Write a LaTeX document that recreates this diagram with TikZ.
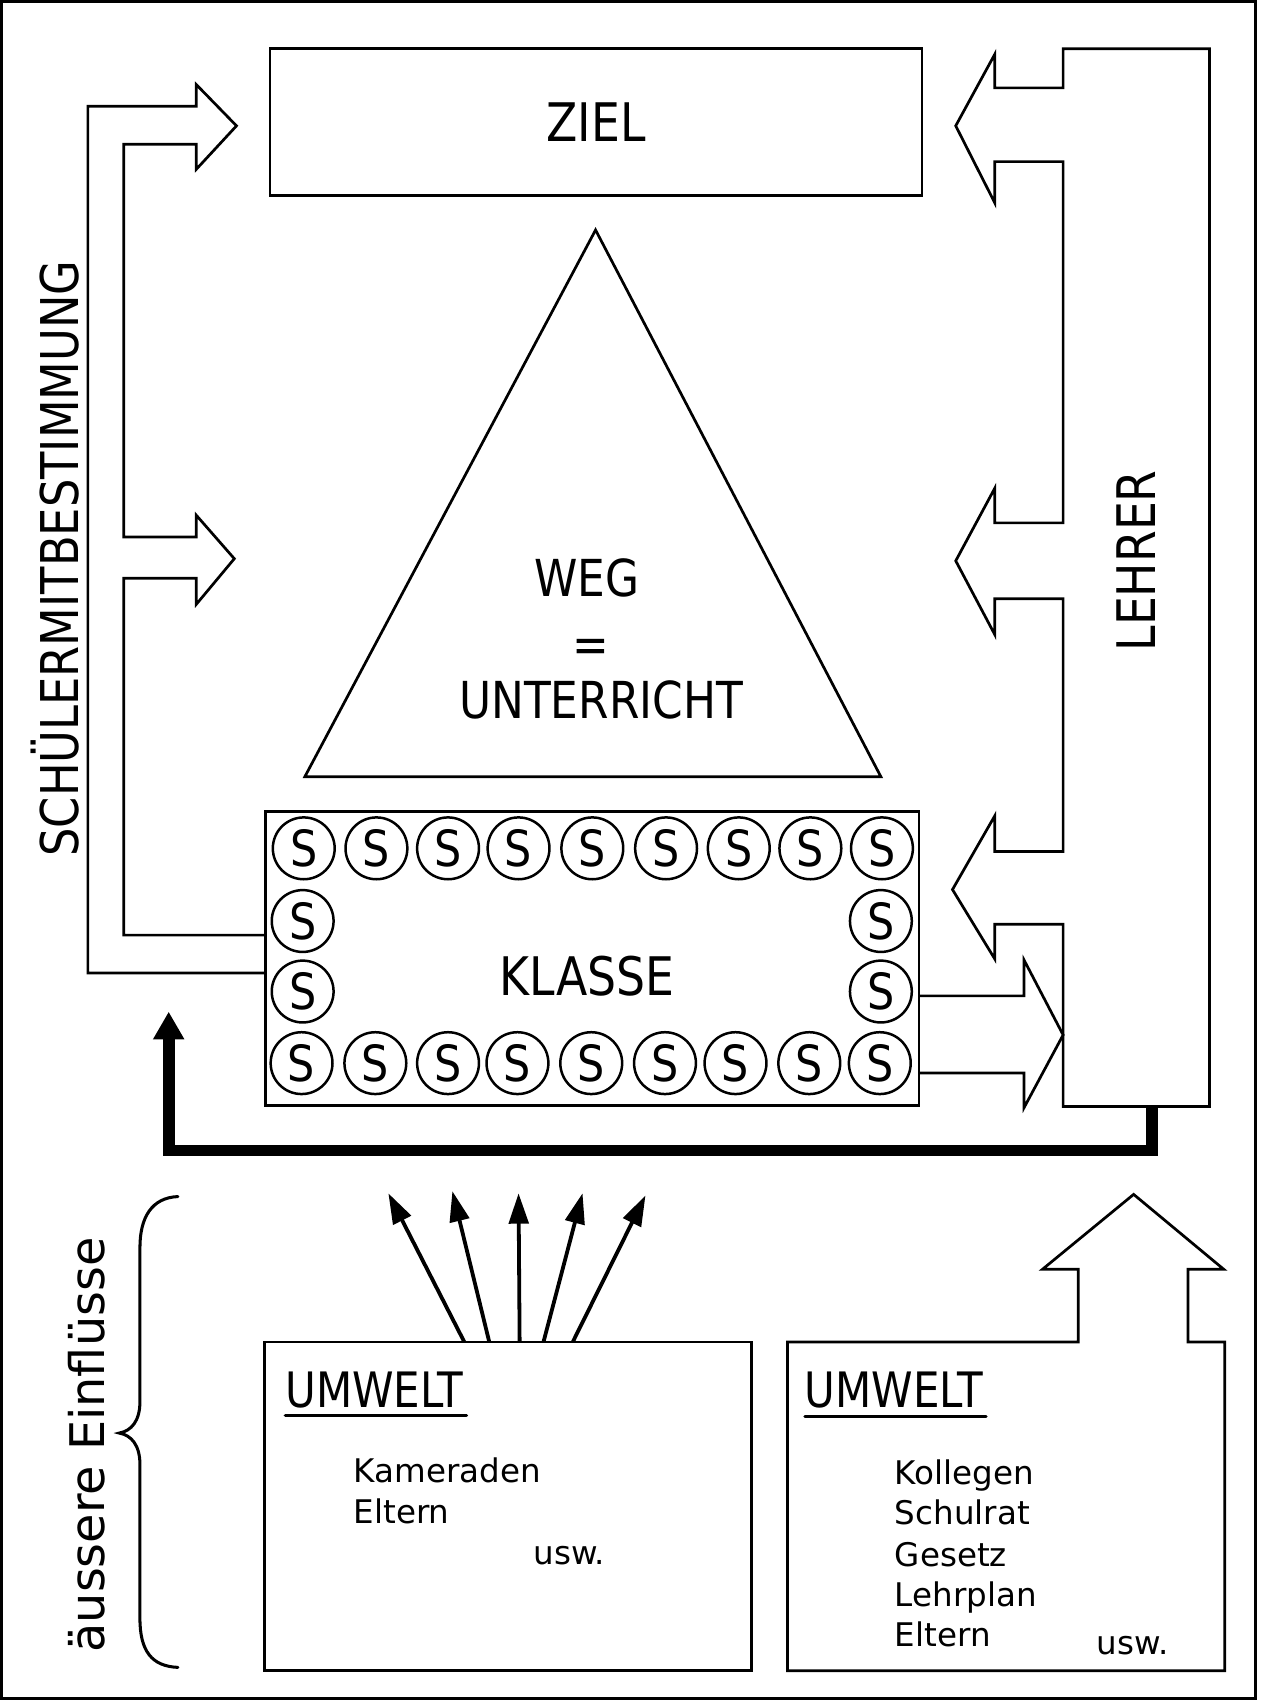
\documentclass[tikz,border=0pt]{standalone}
\usepackage{fontspec}
\setmainfont{DejaVu Sans}[FakeStretch=0.86]
\newfontfamily\lcfont{DejaVu Sans}
\usetikzlibrary{arrows.meta}
\tikzset{
  ln/.style={line width=2.5pt, line join=miter, miter limit=20},
  box/.style={draw, line width=2.5pt, rectangle, inner sep=0pt, outer sep=0pt},
  stud/.style={draw, circle, line width=2.3pt, minimum size=57pt, inner sep=0pt, outer sep=0pt, font=\fontsize{46}{46}\selectfont},
  lbl/.style={inner sep=0pt, outer sep=0pt},
  caps/.style={lbl, font=\fontsize{#1}{#1}\selectfont},
  lower/.style={lbl, font=\lcfont\fontsize{30}{37.5}\selectfont},
  thinarrow/.style={line width=3.5pt, -{Triangle[length=28pt,width=18pt]}},
}
\begin{document}
\begin{tikzpicture}[x=1pt,y=-1pt]
\useasboundingbox (0,0) rectangle (1162,1568);
% outer frame
\draw[line width=2.5pt] (1.5,1.5) rectangle (1157.5,1566);

% ZIEL
\node[box, minimum width=601pt, minimum height=135pt, font=\fontsize{49}{49}\selectfont] (ziel) at (549.5,112.5) {ZIEL};

% triangle
\coordinate (apex) at (549,212);
\coordinate (bl) at (281,716);
\coordinate (br) at (812,716);
\draw[ln] (apex) -- (bl) -- (br) -- cycle;
\node[caps=47, anchor=base] (weg) at (541,550) {WEG};
\node[caps=47, anchor=base] (gleich) at (545,611) {=};
\node[caps=47, anchor=base] (unterricht) at (554,662) {UNTERRICHT};

% KLASSE
\node[box, minimum width=602pt, minimum height=271pt] (klasse) at (546,883.5) {};
\node[caps=49, anchor=base] (klassetext) at (541,918) {KLASSE};
\foreach \xa/\xb [count=\i] in {280/278,347/346,413/413,478/477,546/545,614/613,681/678,747/746,813/811} {
  \node[stud] (t\i) at (\xa,782) {S};
  \node[stud] (b\i) at (\xb,980) {S};
}
\node[stud] (l1) at (279,849) {S};
\node[stud] (l2) at (279,914) {S};
\node[stud] (r1) at (812,849) {S};
\node[stud] (r2) at (812,914) {S};

% Schuelermitbestimmung arrows
\path (0,897) coordinate (yA) (0,862) coordinate (yB) (0,918) coordinate (yC) (0,989) coordinate (yD);
\draw[ln] (klasse.west |- yA) -- (81,897) -- (81,98) -- (181,98) -- (181,78) -- (218,116)
  -- (181,156) -- (181,133) -- (114,133) -- (114,495) -- (181,495) -- (181,475) -- (216,515)
  -- (181,557) -- (181,533) -- (114,533) -- (114,862) -- (klasse.west |- yB);
\node[caps=48, anchor=base, rotate=90] (smb) at (72,515) {SCHÜLERMITBESTIMMUNG};

% LEHRER block with arrows
\coordinate (lehrerbot) at (1062,1020);
\draw[ln] (980,1020) -- (980,852) -- (917,852) -- (917,884) -- (878,820) -- (917,752) -- (917,785)
  -- (980,785) -- (980,552) -- (917,552) -- (917,585) -- (881,517) -- (917,450) -- (917,482)
  -- (980,482) -- (980,149) -- (917,149) -- (917,187) -- (881,116) -- (917,50) -- (917,81)
  -- (980,81) -- (980,45) -- (1115,45) -- (1115,1020) -- cycle;
\node[caps=49, anchor=base, rotate=90] (lehrer) at (1065,517) {LEHRER};

% KLASSE -> LEHRER arrow
\draw[ln] (klasse.east |- yC) -- (944,918) -- (944,885) -- (980,954) -- (944,1021) -- (944,989) -- (klasse.east |- yD);

% thick feedback line
\draw[line width=11pt, line join=miter] (lehrerbot) -- (1062,1060.5) -- (155.5,1060.5) -- (155.5,955);
\fill (141,958) -- (170,958) -- (155.5,933) -- cycle;

% left UMWELT box
\node[box, minimum width=449pt, minimum height=303pt] (umwelt1) at (468.5,1388.5) {};
\node[caps=45, anchor=base west] (u1title) at (263,1297) {UMWELT};
\draw[line width=3pt, line cap=round] (u1title.base west |- 0,1305) -- (430,1305);
\node[lower, anchor=base west] (kam) at (326,1367) {Kameraden};
\node[lower, anchor=base west] (elt1) at (326,1404) {Eltern};
\node[lower, anchor=base west] (usw1) at (492,1442) {usw.};

% five arrows from umwelt1
\draw[thinarrow] (umwelt1.north -| 428,0) -- (358,1100);
\draw[thinarrow] (umwelt1.north -| 451,0) -- (417,1098);
\draw[thinarrow] (umwelt1.north -| 479,0) -- (478,1100);
\draw[thinarrow] (umwelt1.north -| 501,0) -- (537,1100);
\draw[thinarrow] (umwelt1.north -| 528,0) -- (595,1102);

% right UMWELT box with up arrow
\coordinate (u2nw) at (726,1237);
\draw[ln] (u2nw) -- (994,1237) -- (994,1170) -- (961,1170) -- (1045,1101) -- (1128,1170)
  -- (1095,1170) -- (1095,1237) -- (1129,1237) -- (1129,1540) -- (726,1540) -- cycle;
\node[caps=45, anchor=base west] (u2title) at (742,1297) {UMWELT};
\draw[line width=3pt, line cap=round] (u2title.base west |- 0,1306) -- (909,1306);
\node[lower, anchor=base west] (kol) at (825,1368) {Kollegen};
\node[lower, anchor=base west] (sch) at (825,1405) {Schulrat};
\node[lower, anchor=base west] (ges) at (825,1444) {Gesetz};
\node[lower, anchor=base west] (lp) at (825,1481) {Lehrplan};
\node[lower, anchor=base west] (elt2) at (825,1518) {Eltern};
\node[lower, anchor=base west] (usw2) at (1011,1525) {usw.};

% brace and external influences
\draw[line width=2.8pt, line cap=round] (164,1103) .. controls (140,1104) and (129,1122) .. (129,1150)
  -- (129,1292) .. controls (129,1310) and (121,1319) .. (110,1321)
  .. controls (121,1323) and (129,1332) .. (129,1350)
  -- (129,1492) .. controls (129,1522) and (140,1536) .. (164,1537);
\node[lbl, font=\lcfont\fontsize{44}{44}\selectfont, anchor=base, rotate=90] (ae) at (96,1332) {äussere Einflüsse};
\end{tikzpicture}
\end{document}
